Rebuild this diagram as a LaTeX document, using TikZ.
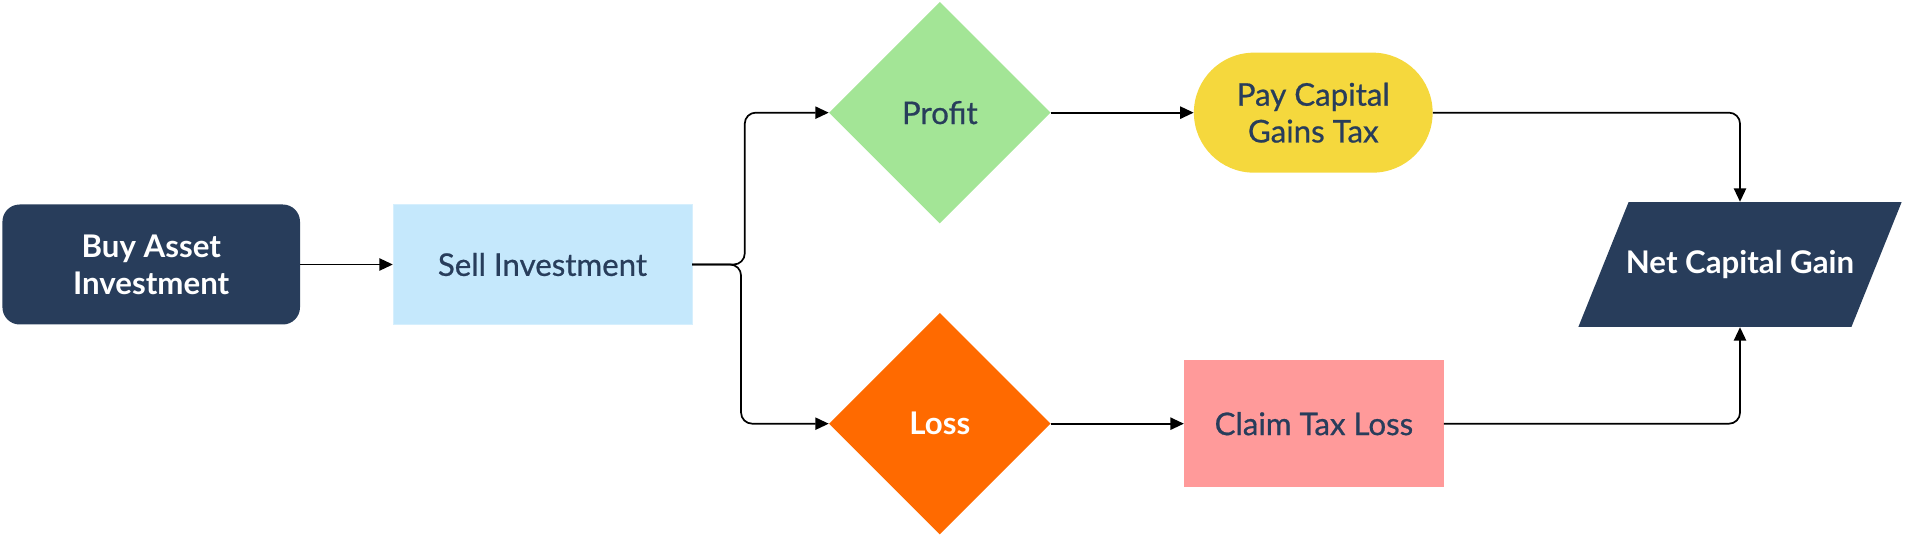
\documentclass[tikz,border=0pt]{standalone}
\usepackage{fontspec}
\setmainfont{Lato}
\newfontfamily\medfont{Lato}[FakeBold=0.7]
\usetikzlibrary{shapes.geometric,arrows.meta}
\definecolor{navy}{HTML}{283D5B}
\definecolor{skyfill}{HTML}{C5E8FC}
\definecolor{greenfill}{HTML}{A3E596}
\definecolor{orangefill}{HTML}{FF6A00}
\definecolor{yellowfill}{HTML}{F5D83D}
\definecolor{pinkfill}{HTML}{FF9A9A}
\tikzset{
  base/.style={inner sep=0pt, align=center, font=\medfont\fontsize{25.5}{30}\selectfont, text=navy},
  whitetext/.style={text=white, font=\fontsize{25.5}{30}\selectfont\bfseries},
  darkbox/.style={base, whitetext, rectangle, rounded corners=14pt, fill=navy, minimum width=243pt, minimum height=98pt},
  lightbox/.style={base, rectangle, fill=skyfill, draw=skyfill!70!white, minimum width=244pt, minimum height=98pt},
  choice/.style={base, diamond, minimum width=181pt, minimum height=181pt},
  stadium/.style={base, rectangle, rounded corners=49pt, fill=yellowfill, minimum width=195pt, minimum height=98pt},
  pinkbox/.style={base, rectangle, fill=pinkfill, minimum width=212pt, minimum height=104pt},
  outbox/.style={base, whitetext, rectangle, minimum width=182pt, minimum height=102pt},
  conn/.style={line width=1.4pt, black, rounded corners=9pt, -{Triangle[length=11pt,width=10pt]}}
}
\begin{document}
\begin{tikzpicture}[x=1pt,y=-1pt]
\useasboundingbox (0,0) rectangle (1568,437);
\node[darkbox] (buy) at (123.5,216) {Buy Asset\\Investment};
\node[lightbox] (sell) at (443,216) {Sell Investment};
\node[choice, fill=greenfill] (profit) at (767.5,92) {Profit};
\node[choice, fill=orangefill, whitetext] (loss) at (767.5,346) {Loss};
\node[stadium] (pay) at (1072.5,92) {Pay Capital\\Gains Tax};
\node[pinkbox] (claim) at (1073,346) {Claim Tax Loss};
\fill[navy] (1330,165) -- (1553,165) -- (1512,267) -- (1289,267) -- cycle;
\node[outbox] (net) at (1421,216) {Net Capital Gain};
\draw[conn] (buy.east) -- (sell.west);
\draw[conn] (sell.east) -- ([xshift=43pt]sell.east) |- (profit.west);
\draw[conn] (sell.east) -- ([xshift=40pt]sell.east) |- (loss.west);
\draw[conn] (profit.east) -- (pay.west);
\draw[conn] (loss.east) -- (claim.west);
\draw[conn] (pay.east) -| (net.north);
\draw[conn] (claim.east) -| (net.south);
\end{tikzpicture}
\end{document}
